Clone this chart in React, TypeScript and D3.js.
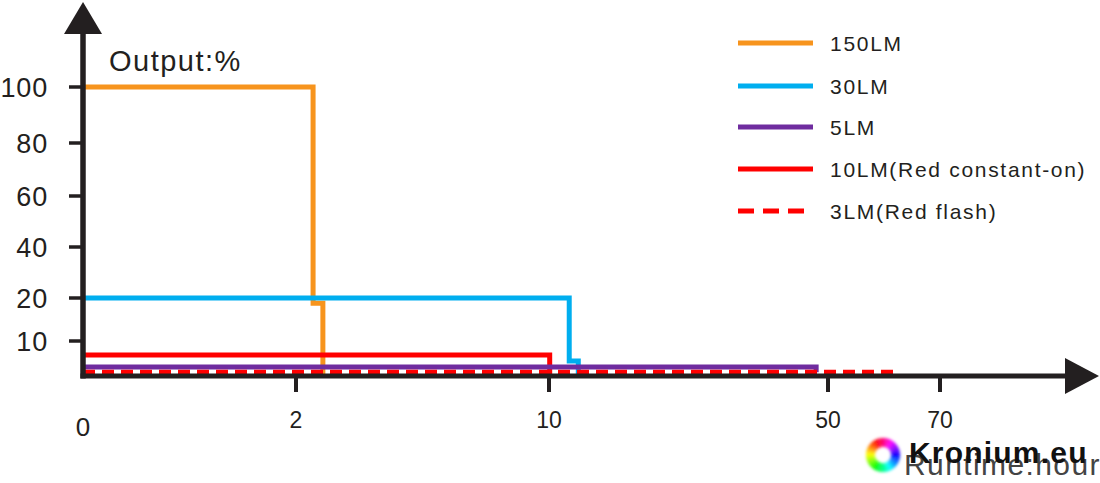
import React, { useRef, useEffect } from 'react';
import * as d3 from 'd3';

// axis breakpoints (the chart uses an uneven, piecewise scale)
const xTicks = [0, 2, 10, 50, 70];
const xTickLabels = ['0', '2', '10', '50', '70'];
const yTicks = [10, 20, 40, 60, 80, 100];
const yTickLabels = ['10', '20', '40', '60', '80', '100'];

// step series: [runtime hour, output %], each value holds until the next point
const series150 = [[0, 100], [2.54, 18.8], [2.85, 0]];
const series30 = [[0, 20], [12.9, 4.3], [14.2, 0]];
const series5 = [[0, 2.6], [48.3, 1.1]];
const series10 = [[0, 6.0], [10.1, 0]];
const series3 = [[0, 1.1], [61.7, 0]];

const legendNames = ['150LM', '30LM', '5LM', '10LM(Red constant-on)', '3LM(Red flash)'];
const legendColors = ['#F7941D', '#00AEEF', '#6F2C9F', '#FF0000', '#FF0000'];
const legendDashed = [false, false, false, false, true];

const FONT = "'Liberation Sans', Arial, sans-serif";

const App = () => {
  const chartRef = useRef<SVGSVGElement | null>(null);

  useEffect(() => {
    const width = 1100;
    const height = 483;

    const svg = d3.select(chartRef.current);
    svg.selectAll('*').remove();
    svg.attr('width', width).attr('height', height);

    // piecewise linear scales
    const x = d3.scaleLinear().domain(xTicks).range([83, 296, 549, 828, 940]);
    const y = d3.scaleLinear().domain([0, ...yTicks]).range([376, 341, 298, 247, 196, 143, 87]);

    const defs = svg.append('defs');
    defs.append('filter')
      .attr('id', 'blur')
      .append('feGaussianBlur')
      .attr('stdDeviation', 1.4);

    // series lines
    const line = d3.line<number[]>()
      .x(d => x(d[0]))
      .y(d => y(d[1]))
      .curve(d3.curveStepAfter);

    const allSeries = [series150, series30, series10, series5, series3];
    const seriesColor = ['#F7941D', '#00AEEF', '#FF0000', '#6F2C9F', '#FF0000'];
    const seriesDash = [null, null, null, null, '12 7'];

    allSeries.forEach((s, i) => {
      svg.append('path')
        .attr('d', line(s))
        .attr('fill', 'none')
        .attr('stroke', seriesColor[i])
        .attr('stroke-width', 5)
        .attr('stroke-dasharray', seriesDash[i]);
    });

    // axes
    const axisColor = '#231F20';
    svg.append('line')
      .attr('x1', x(0)).attr('x2', x(0))
      .attr('y1', y(0) + 2.5).attr('y2', 30)
      .attr('stroke', axisColor).attr('stroke-width', 5.5);
    svg.append('path')
      .attr('d', `M${x(0)},2 L${x(0) + 19},34 L${x(0) - 19},34 Z`)
      .attr('fill', axisColor);

    svg.append('line')
      .attr('x1', x(0) - 2.5).attr('x2', 1068)
      .attr('y1', y(0)).attr('y2', y(0))
      .attr('stroke', axisColor).attr('stroke-width', 5);
    svg.append('path')
      .attr('d', `M1099,${y(0)} L1065,${y(0) - 18} L1065,${y(0) + 18} Z`)
      .attr('fill', axisColor);

    // y ticks + labels
    yTicks.forEach((t, i) => {
      svg.append('line')
        .attr('x1', 69).attr('x2', x(0))
        .attr('y1', y(t)).attr('y2', y(t))
        .attr('stroke', axisColor).attr('stroke-width', 3.5);
      svg.append('text')
        .attr('x', 48).attr('y', y(t) + 9.5)
        .attr('text-anchor', 'end')
        .attr('font-family', FONT)
        .attr('font-size', 27)
        .attr('letter-spacing', 0.8)
        .attr('fill', '#231F20')
        .text(yTickLabels[i]);
    });

    // x ticks + labels
    xTicks.forEach((t, i) => {
      if (t > 0) {
        svg.append('line')
          .attr('x1', x(t)).attr('x2', x(t))
          .attr('y1', y(0)).attr('y2', 392)
          .attr('stroke', axisColor).attr('stroke-width', 4);
      }
      svg.append('text')
        .attr('x', x(t)).attr('y', t === 0 ? 436 : 428)
        .attr('text-anchor', 'middle')
        .attr('font-family', FONT)
        .attr('font-size', t === 0 ? 26 : 23)
        .attr('fill', '#231F20')
        .text(xTickLabels[i]);
    });

    // axis titles
    svg.append('text')
      .attr('x', 109).attr('y', 71)
      .attr('font-family', FONT)
      .attr('font-size', 29)
      .attr('letter-spacing', 1.5)
      .attr('fill', '#231F20')
      .text('Output:%');

    svg.append('text')
      .attr('x', 904).attr('y', 475)
      .attr('font-family', FONT)
      .attr('font-size', 30)
      .attr('letter-spacing', 1.4)
      .attr('fill', '#444')
      .text('Runtime:hour');

    // legend
    const legendY = [43, 86, 127, 169, 211];
    legendNames.forEach((name, i) => {
      svg.append('line')
        .attr('x1', 738).attr('x2', 813)
        .attr('y1', legendY[i]).attr('y2', legendY[i])
        .attr('stroke', legendColors[i])
        .attr('stroke-width', 5)
        .attr('stroke-dasharray', legendDashed[i] ? '16 9' : null);
      svg.append('text')
        .attr('x', 830).attr('y', legendY[i] + 7.5)
        .attr('font-family', FONT)
        .attr('font-size', 21)
        .attr('letter-spacing', 1.7)
        .attr('fill', '#231F20')
        .text(name);
    });

    // watermark: colour ring + name
    const ring = svg.append('g')
      .attr('transform', 'translate(883,455)')
      .attr('filter', 'url(#blur)');
    const segs = d3.range(72);
    const arc = d3.arc<number>()
      .innerRadius(8)
      .outerRadius(17)
      .startAngle(d => (d / 72) * 2 * Math.PI)
      .endAngle(d => ((d + 1.2) / 72) * 2 * Math.PI);
    ring.selectAll('path')
      .data(segs)
      .enter().append('path')
      .attr('d', arc)
      .attr('fill', d => d3.hsl((330 - d * 5 + 360) % 360, 1, 0.5).toString());

    svg.append('text')
      .attr('x', 909).attr('y', 463)
      .attr('font-family', FONT)
      .attr('font-size', 30)
      .attr('font-weight', 'bold')
      .attr('letter-spacing', 1.2)
      .attr('fill', '#111')
      .text('Kronium.eu');
  }, []);

  return (
    <svg
      ref={chartRef}
      style={{ position: 'absolute', left: 0, top: 0, background: '#fff' }}
    />
  );
};

export default App;
